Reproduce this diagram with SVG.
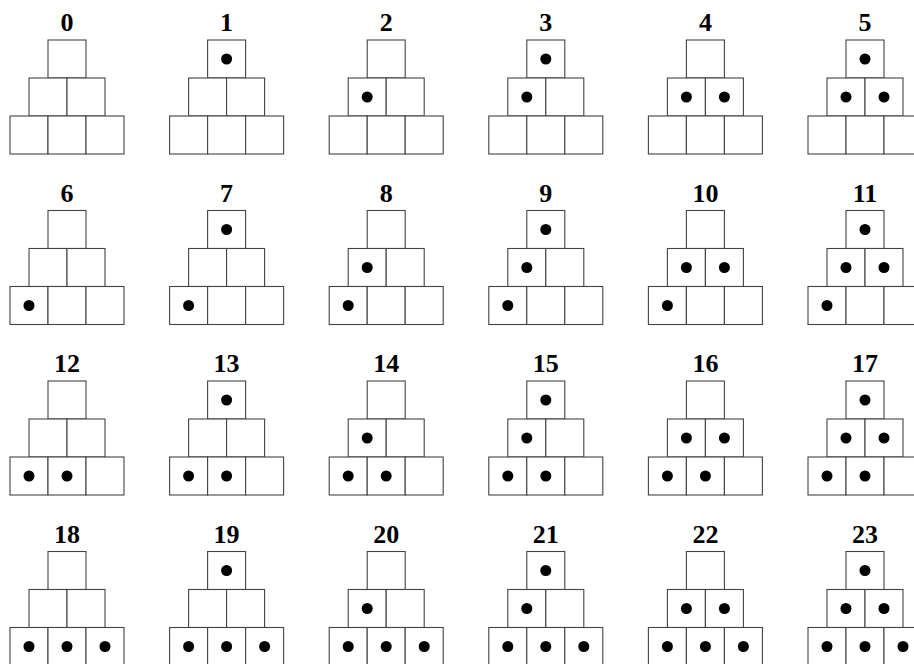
<svg xmlns="http://www.w3.org/2000/svg" xmlns:xlink="http://www.w3.org/1999/xlink" width="914" height="664" viewBox="0 0 914 664">
<style>
.box{fill:#fff;stroke:#444;stroke-width:1.1}
.dot{fill:#000}
.lbl{font-family:"Liberation Serif","Times New Roman",serif;font-weight:bold;font-size:26px;text-anchor:middle;fill:#000}
</style>
<defs>
<g id="frame">
<rect class="box" x="-19" y="0" width="38" height="38"/>
<rect class="box" x="-38" y="38" width="38" height="38"/>
<rect class="box" x="0" y="38" width="38" height="38"/>
<rect class="box" x="-57" y="76" width="38" height="38"/>
<rect class="box" x="-19" y="76" width="38" height="38"/>
<rect class="box" x="19" y="76" width="38" height="38"/>
</g>
<circle id="T" class="dot" cx="0" cy="19" r="5.5"/>
<circle id="ML" class="dot" cx="-19" cy="57" r="5.5"/>
<circle id="MR" class="dot" cx="19" cy="57" r="5.5"/>
<circle id="BL" class="dot" cx="-38" cy="95" r="5.5"/>
<circle id="BM" class="dot" cx="0" cy="95" r="5.5"/>
<circle id="BR" class="dot" cx="38" cy="95" r="5.5"/>
</defs>
<g id="connectors"></g>
<g id="p0" transform="translate(67,40)"><text class="lbl" x="0" y="-9">0</text><use xlink:href="#frame"/></g>
<g id="p1" transform="translate(226.6,40)"><text class="lbl" x="0" y="-9">1</text><use xlink:href="#frame"/><use xlink:href="#T"/></g>
<g id="p2" transform="translate(386.2,40)"><text class="lbl" x="0" y="-9">2</text><use xlink:href="#frame"/><use xlink:href="#ML"/></g>
<g id="p3" transform="translate(545.8,40)"><text class="lbl" x="0" y="-9">3</text><use xlink:href="#frame"/><use xlink:href="#T"/><use xlink:href="#ML"/></g>
<g id="p4" transform="translate(705.4,40)"><text class="lbl" x="0" y="-9">4</text><use xlink:href="#frame"/><use xlink:href="#ML"/><use xlink:href="#MR"/></g>
<g id="p5" transform="translate(865,40)"><text class="lbl" x="0" y="-9">5</text><use xlink:href="#frame"/><use xlink:href="#T"/><use xlink:href="#ML"/><use xlink:href="#MR"/></g>
<g id="p6" transform="translate(67,210.5)"><text class="lbl" x="0" y="-9">6</text><use xlink:href="#frame"/><use xlink:href="#BL"/></g>
<g id="p7" transform="translate(226.6,210.5)"><text class="lbl" x="0" y="-9">7</text><use xlink:href="#frame"/><use xlink:href="#BL"/><use xlink:href="#T"/></g>
<g id="p8" transform="translate(386.2,210.5)"><text class="lbl" x="0" y="-9">8</text><use xlink:href="#frame"/><use xlink:href="#BL"/><use xlink:href="#ML"/></g>
<g id="p9" transform="translate(545.8,210.5)"><text class="lbl" x="0" y="-9">9</text><use xlink:href="#frame"/><use xlink:href="#BL"/><use xlink:href="#T"/><use xlink:href="#ML"/></g>
<g id="p10" transform="translate(705.4,210.5)"><text class="lbl" x="0" y="-9">10</text><use xlink:href="#frame"/><use xlink:href="#BL"/><use xlink:href="#ML"/><use xlink:href="#MR"/></g>
<g id="p11" transform="translate(865,210.5)"><text class="lbl" x="0" y="-9">11</text><use xlink:href="#frame"/><use xlink:href="#BL"/><use xlink:href="#T"/><use xlink:href="#ML"/><use xlink:href="#MR"/></g>
<g id="p12" transform="translate(67,381)"><text class="lbl" x="0" y="-9">12</text><use xlink:href="#frame"/><use xlink:href="#BL"/><use xlink:href="#BM"/></g>
<g id="p13" transform="translate(226.6,381)"><text class="lbl" x="0" y="-9">13</text><use xlink:href="#frame"/><use xlink:href="#BL"/><use xlink:href="#BM"/><use xlink:href="#T"/></g>
<g id="p14" transform="translate(386.2,381)"><text class="lbl" x="0" y="-9">14</text><use xlink:href="#frame"/><use xlink:href="#BL"/><use xlink:href="#BM"/><use xlink:href="#ML"/></g>
<g id="p15" transform="translate(545.8,381)"><text class="lbl" x="0" y="-9">15</text><use xlink:href="#frame"/><use xlink:href="#BL"/><use xlink:href="#BM"/><use xlink:href="#T"/><use xlink:href="#ML"/></g>
<g id="p16" transform="translate(705.4,381)"><text class="lbl" x="0" y="-9">16</text><use xlink:href="#frame"/><use xlink:href="#BL"/><use xlink:href="#BM"/><use xlink:href="#ML"/><use xlink:href="#MR"/></g>
<g id="p17" transform="translate(865,381)"><text class="lbl" x="0" y="-9">17</text><use xlink:href="#frame"/><use xlink:href="#BL"/><use xlink:href="#BM"/><use xlink:href="#T"/><use xlink:href="#ML"/><use xlink:href="#MR"/></g>
<g id="p18" transform="translate(67,551.5)"><text class="lbl" x="0" y="-9">18</text><use xlink:href="#frame"/><use xlink:href="#BL"/><use xlink:href="#BM"/><use xlink:href="#BR"/></g>
<g id="p19" transform="translate(226.6,551.5)"><text class="lbl" x="0" y="-9">19</text><use xlink:href="#frame"/><use xlink:href="#BL"/><use xlink:href="#BM"/><use xlink:href="#BR"/><use xlink:href="#T"/></g>
<g id="p20" transform="translate(386.2,551.5)"><text class="lbl" x="0" y="-9">20</text><use xlink:href="#frame"/><use xlink:href="#BL"/><use xlink:href="#BM"/><use xlink:href="#BR"/><use xlink:href="#ML"/></g>
<g id="p21" transform="translate(545.8,551.5)"><text class="lbl" x="0" y="-9">21</text><use xlink:href="#frame"/><use xlink:href="#BL"/><use xlink:href="#BM"/><use xlink:href="#BR"/><use xlink:href="#T"/><use xlink:href="#ML"/></g>
<g id="p22" transform="translate(705.4,551.5)"><text class="lbl" x="0" y="-9">22</text><use xlink:href="#frame"/><use xlink:href="#BL"/><use xlink:href="#BM"/><use xlink:href="#BR"/><use xlink:href="#ML"/><use xlink:href="#MR"/></g>
<g id="p23" transform="translate(865,551.5)"><text class="lbl" x="0" y="-9">23</text><use xlink:href="#frame"/><use xlink:href="#BL"/><use xlink:href="#BM"/><use xlink:href="#BR"/><use xlink:href="#T"/><use xlink:href="#ML"/><use xlink:href="#MR"/></g>
</svg>
